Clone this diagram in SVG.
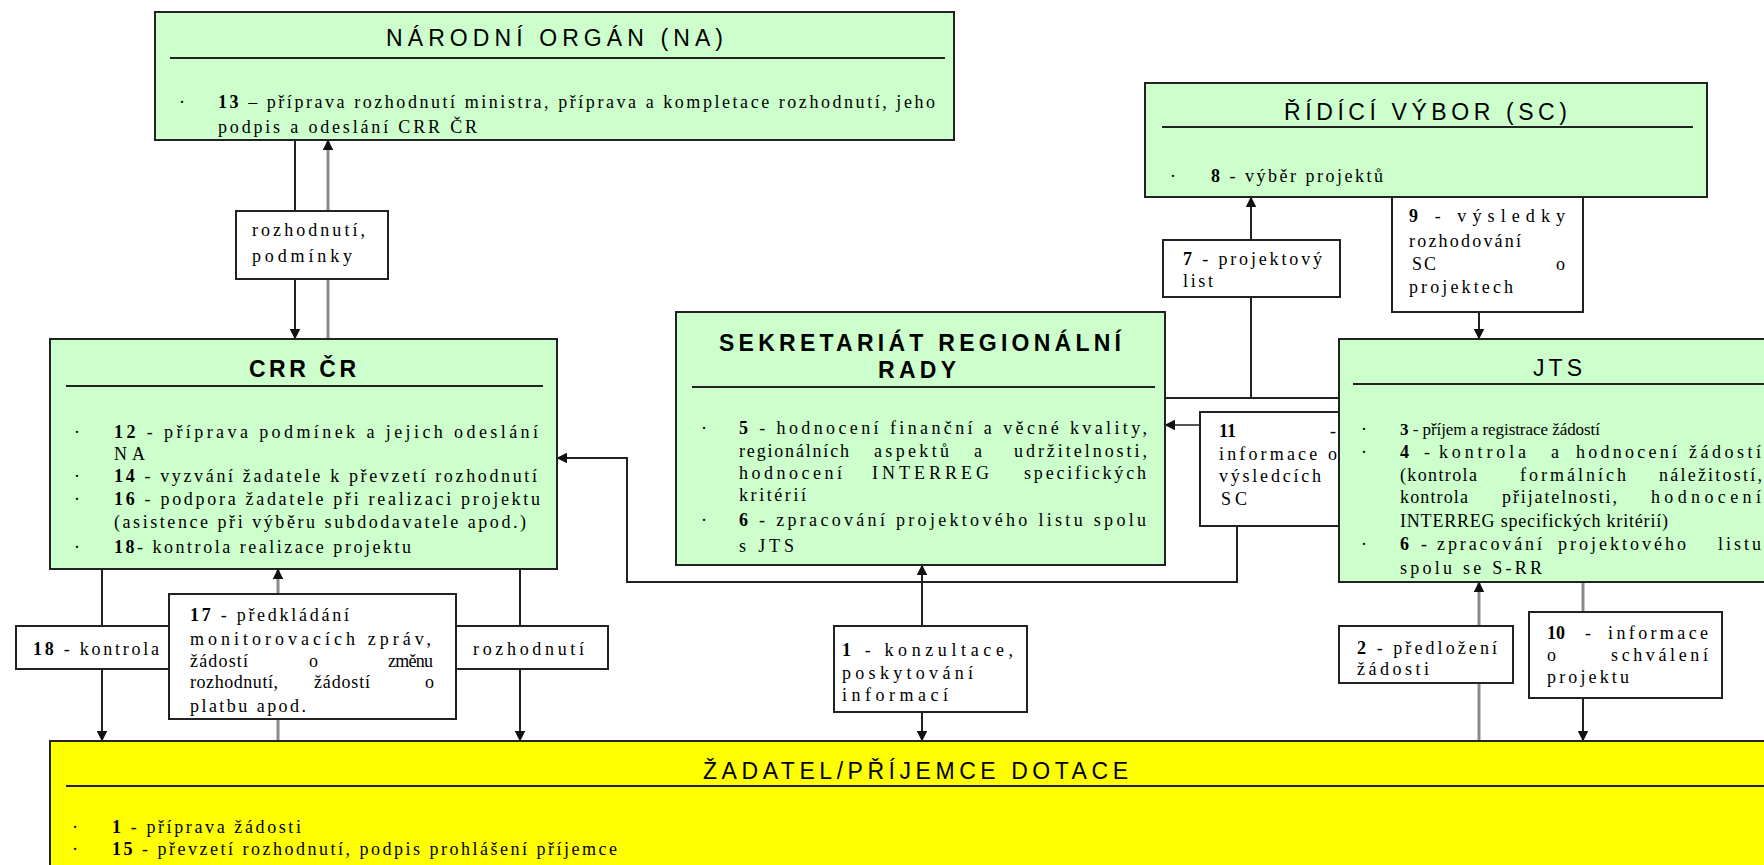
<svg xmlns="http://www.w3.org/2000/svg" width="1764" height="865" viewBox="0 0 1764 865">
<style>
.box{fill:#ccffcc;stroke:#222;stroke-width:2}
.ybox{fill:#ffff00;stroke:#222;stroke-width:2}
.lbl{fill:#fff;stroke:#222;stroke-width:2}
.rule{stroke:#222;stroke-width:2}
.h{font-family:"Liberation Sans",Arial,sans-serif;font-size:23px;fill:#000}
.hb{font-family:"Liberation Sans",Arial,sans-serif;font-size:23px;font-weight:bold;fill:#000}
.t{font-family:"Liberation Serif","Times New Roman",serif;font-size:18px;fill:#000}
.b{font-weight:bold}
.ln{stroke:#222;stroke-width:2;fill:none}
.lg{stroke:#8a8a8a;stroke-width:3;fill:none}
.lm{stroke:#555;stroke-width:2;fill:none}
</style>
<defs>
<marker id="ar" viewBox="0 0 10 10" refX="9.5" refY="5" markerWidth="11" markerHeight="11" markerUnits="userSpaceOnUse" orient="auto-start-reverse">
<path d="M0,0 L10,5 L0,10 z" fill="#111"/>
</marker>
</defs>

<g id="connectors">
<path class="ln" d="M295,140 V339" marker-end="url(#ar)"/>
<path class="lg" d="M328,339 V140" marker-end="url(#ar)"/>
<path class="ln" d="M102,569 V741" marker-end="url(#ar)"/>
<path class="lg" d="M278,741 V569" marker-end="url(#ar)"/>
<path class="ln" d="M520,569 V741" marker-end="url(#ar)"/>
<path class="ln" d="M922,741 V565" marker-start="url(#ar)" marker-end="url(#ar)"/>
<path class="lg" d="M1479,741 V582" marker-end="url(#ar)"/>
<path class="lg" d="M1583,582 V612"/>
<path class="ln" d="M1583,698 V741" marker-end="url(#ar)"/>
<path class="ln" d="M1479,197 V339" marker-end="url(#ar)"/>
<path class="ln" d="M1165,398 H1339"/>
<path class="ln" d="M1251,398 V197" marker-end="url(#ar)"/>
<path class="lm" d="M1200,425 H1165" marker-end="url(#ar)"/>
<path class="ln" d="M1237,526 V582 H627 V458 H557" marker-end="url(#ar)"/>
</g>

<g id="label-rozhodnuti-podminky">
<rect class="lbl" x="236" y="211" width="152" height="68"/>
<text class="t" x="252" y="236" textLength="113" lengthAdjust="spacing">rozhodnutí,</text>
<text class="t" x="252" y="262" textLength="100" lengthAdjust="spacing">podmínky</text>
</g>
<g id="label-7">
<rect class="lbl" x="1163" y="240" width="177" height="57"/>
<text class="t" x="1183" y="265" textLength="139" lengthAdjust="spacing"><tspan class="b">7</tspan> - projektový</text>
<text class="t" x="1183" y="287" textLength="30" lengthAdjust="spacing">list</text>
</g>
<g id="label-9">
<rect class="lbl" x="1392" y="197" width="191" height="115"/>
<text class="t" x="1409" y="222" textLength="156" lengthAdjust="spacing"><tspan class="b">9</tspan> - výsledky</text>
<text class="t" x="1409" y="247" textLength="112" lengthAdjust="spacing">rozhodování</text>
<text class="t" x="1412" y="270" textLength="24" lengthAdjust="spacing">SC</text>
<text class="t" x="1556" y="270">o</text>
<text class="t" x="1409" y="293" textLength="104" lengthAdjust="spacing">projektech</text>
</g>
<g id="label-11">
<rect class="lbl" x="1200" y="412" width="150" height="114"/>
<text class="t b" x="1219" y="437">11</text>
<text class="t" x="1330" y="437">-</text>
<text class="t" x="1219" y="460" textLength="118" lengthAdjust="spacing">informace o</text>
<text class="t" x="1219" y="482" textLength="102" lengthAdjust="spacing">výsledcích</text>
<text class="t" x="1221" y="505" textLength="26" lengthAdjust="spacing">SC</text>
</g>
<g id="label-18">
<rect class="lbl" x="16" y="626" width="153" height="43"/>
<text class="t" x="33" y="655" textLength="126" lengthAdjust="spacing"><tspan class="b">18</tspan> - kontrola</text>
</g>
<g id="label-17">
<rect class="lbl" x="169" y="594" width="287" height="125"/>
<text class="t" x="190" y="621" textLength="159" lengthAdjust="spacing"><tspan class="b">17</tspan> - předkládání</text>
<text class="t" x="190" y="645" textLength="241" lengthAdjust="spacing">monitorovacích zpráv,</text>
<text class="t" x="190" y="667" textLength="58" lengthAdjust="spacing">žádostí</text>
<text class="t" x="309" y="667">o</text>
<text class="t" x="388" y="667" textLength="45" lengthAdjust="spacing">změnu</text>
<text class="t" x="190" y="688" textLength="88" lengthAdjust="spacing">rozhodnutí,</text>
<text class="t" x="314" y="688" textLength="56" lengthAdjust="spacing">žádostí</text>
<text class="t" x="425" y="688">o</text>
<text class="t" x="190" y="712" textLength="116" lengthAdjust="spacing">platbu apod.</text>
</g>
<g id="label-rozhodnuti">
<rect class="lbl" x="456" y="626" width="152" height="43"/>
<text class="t" x="473" y="655" textLength="111" lengthAdjust="spacing">rozhodnutí</text>
</g>
<g id="label-1">
<rect class="lbl" x="834" y="626" width="193" height="86"/>
<text class="t" x="842" y="656" textLength="171" lengthAdjust="spacing"><tspan class="b">1</tspan> - konzultace,</text>
<text class="t" x="842" y="679" textLength="131" lengthAdjust="spacing">poskytování</text>
<text class="t" x="842" y="701" textLength="106" lengthAdjust="spacing">informací</text>
</g>
<g id="label-2">
<rect class="lbl" x="1339" y="626" width="174" height="57"/>
<text class="t" x="1357" y="654" textLength="140" lengthAdjust="spacing"><tspan class="b">2</tspan> - předložení</text>
<text class="t" x="1357" y="675" textLength="72" lengthAdjust="spacing">žádosti</text>
</g>
<g id="label-10">
<rect class="lbl" x="1529" y="612" width="193" height="86"/>
<text class="t b" x="1547" y="639">10</text>
<text class="t" x="1585" y="639">-</text>
<text class="t" x="1608" y="639" textLength="100" lengthAdjust="spacing">informace</text>
<text class="t" x="1547" y="661">o</text>
<text class="t" x="1611" y="661" textLength="97" lengthAdjust="spacing">schválení</text>
<text class="t" x="1547" y="683" textLength="82" lengthAdjust="spacing">projektu</text>
</g>

<g id="node-na">
<rect class="box" x="155" y="12" width="799" height="128"/>
<text class="h" x="386" y="46" textLength="337" lengthAdjust="spacing">NÁRODNÍ ORGÁN (NA)</text>
<line class="rule" x1="170" y1="58" x2="945" y2="58"/>
<text class="t" x="179" y="108">·</text>
<text class="t" x="218" y="108" textLength="717" lengthAdjust="spacing"><tspan class="b">13</tspan> – příprava rozhodnutí ministra, příprava a kompletace rozhodnutí, jeho</text>
<text class="t" x="218" y="133" textLength="259" lengthAdjust="spacing">podpis a odeslání CRR ČR</text>
</g>

<g id="node-sc">
<rect class="box" x="1145" y="83" width="562" height="114"/>
<text class="h" x="1284" y="120" textLength="283" lengthAdjust="spacing">ŘÍDÍCÍ VÝBOR (SC)</text>
<line class="rule" x1="1162" y1="127" x2="1693" y2="127"/>
<text class="t" x="1170" y="182">·</text>
<text class="t" x="1211" y="182" textLength="172" lengthAdjust="spacing"><tspan class="b">8</tspan> - výběr projektů</text>
</g>

<g id="node-crr">
<rect class="box" x="50" y="339" width="507" height="230"/>
<text class="hb" x="249" y="377" textLength="107" lengthAdjust="spacing">CRR ČR</text>
<line class="rule" x1="66" y1="386" x2="543" y2="386"/>
<text class="t" x="74" y="438">·</text>
<text class="t" x="114" y="438" textLength="424" lengthAdjust="spacing"><tspan class="b">12</tspan> - příprava podmínek  a jejich odeslání</text>
<text class="t" x="114" y="460" textLength="31" lengthAdjust="spacing">NA</text>
<text class="t" x="74" y="482">·</text>
<text class="t" x="114" y="482" textLength="423" lengthAdjust="spacing"><tspan class="b">14</tspan> - vyzvání žadatele k převzetí rozhodnutí</text>
<text class="t" x="74" y="505">·</text>
<text class="t" x="114" y="505" textLength="426" lengthAdjust="spacing"><tspan class="b">16</tspan> - podpora žadatele při realizaci projektu</text>
<text class="t" x="114" y="528" textLength="412" lengthAdjust="spacing">(asistence při výběru subdodavatele apod.)</text>
<text class="t" x="74" y="553">·</text>
<text class="t" x="114" y="553" textLength="297" lengthAdjust="spacing"><tspan class="b">18</tspan>- kontrola realizace projektu</text>
</g>

<g id="node-srr">
<rect class="box" x="676" y="312" width="489" height="253"/>
<text class="hb" x="719" y="351" textLength="402" lengthAdjust="spacing">SEKRETARIÁT REGIONÁLNÍ</text>
<text class="hb" x="878" y="378" textLength="78" lengthAdjust="spacing">RADY</text>
<line class="rule" x1="692" y1="387" x2="1155" y2="387"/>
<text class="t" x="701" y="434">·</text>
<text class="t" x="739" y="434" textLength="408" lengthAdjust="spacing"><tspan class="b">5</tspan> - hodnocení finanční a věcné kvality,</text>
<text class="t" x="739" y="457" textLength="110" lengthAdjust="spacing">regionálních</text>
<text class="t" x="874" y="457" textLength="75" lengthAdjust="spacing">aspektů</text>
<text class="t" x="974" y="457">a</text>
<text class="t" x="1014" y="457" textLength="133" lengthAdjust="spacing">udržitelnosti,</text>
<text class="t" x="739" y="479" textLength="103" lengthAdjust="spacing">hodnocení</text>
<text class="t" x="872" y="479" textLength="117" lengthAdjust="spacing">INTERREG</text>
<text class="t" x="1024" y="479" textLength="122" lengthAdjust="spacing">specifických</text>
<text class="t" x="739" y="501" textLength="67" lengthAdjust="spacing">kritérií</text>
<text class="t" x="701" y="526">·</text>
<text class="t" x="739" y="526" textLength="407" lengthAdjust="spacing"><tspan class="b">6</tspan> - zpracování projektového listu spolu</text>
<text class="t" x="739" y="552" textLength="55" lengthAdjust="spacing">s JTS</text>
</g>

<g id="node-jts">
<rect class="box" x="1339" y="339" width="440" height="243"/>
<text class="h" x="1533" y="376" textLength="49" lengthAdjust="spacing">JTS</text>
<line class="rule" x1="1353" y1="384" x2="1764" y2="384"/>
<text class="t" x="1361" y="435">·</text>
<text class="t" x="1400" y="435" style="font-size:17px" textLength="200" lengthAdjust="spacing"><tspan class="b">3</tspan> - příjem a registrace žádostí</text>
<text class="t" x="1361" y="458">·</text>
<text class="t b" x="1400" y="458">4</text>
<text class="t" x="1424" y="458">-</text>
<text class="t" x="1439" y="458" textLength="87" lengthAdjust="spacing">kontrola</text>
<text class="t" x="1551" y="458">a</text>
<text class="t" x="1576" y="458" textLength="101" lengthAdjust="spacing">hodnocení</text>
<text class="t" x="1689" y="458" textLength="72" lengthAdjust="spacing">žádostí</text>
<text class="t" x="1400" y="481" textLength="77" lengthAdjust="spacing">(kontrola</text>
<text class="t" x="1520" y="481" textLength="106" lengthAdjust="spacing">formálních</text>
<text class="t" x="1659" y="481" textLength="103" lengthAdjust="spacing">náležitostí,</text>
<text class="t" x="1400" y="503" textLength="68" lengthAdjust="spacing">kontrola</text>
<text class="t" x="1502" y="503" textLength="115" lengthAdjust="spacing">přijatelnosti,</text>
<text class="t" x="1651" y="503" textLength="110" lengthAdjust="spacing">hodnocení</text>
<text class="t" x="1400" y="527" textLength="268" lengthAdjust="spacing">INTERREG specifických kritérií)</text>
<text class="t" x="1361" y="550">·</text>
<text class="t b" x="1400" y="550">6</text>
<text class="t" x="1421" y="550">-</text>
<text class="t" x="1437" y="550" textLength="105" lengthAdjust="spacing">zpracování</text>
<text class="t" x="1558" y="550" textLength="128" lengthAdjust="spacing">projektového</text>
<text class="t" x="1718" y="550" textLength="43" lengthAdjust="spacing">listu</text>
<text class="t" x="1400" y="574" textLength="142" lengthAdjust="spacing">spolu se S-RR</text>
</g>

<g id="node-zadatel">
<rect class="ybox" x="50" y="741" width="1730" height="140"/>
<text class="h" x="703" y="779" textLength="425" lengthAdjust="spacing">ŽADATEL/PŘÍJEMCE DOTACE</text>
<line class="rule" x1="66" y1="786" x2="1764" y2="786"/>
<text class="t" x="72" y="833">·</text>
<text class="t" x="112" y="833" textLength="189" lengthAdjust="spacing"><tspan class="b">1</tspan> - příprava žádosti</text>
<text class="t" x="72" y="855">·</text>
<text class="t" x="112" y="855" textLength="505" lengthAdjust="spacing"><tspan class="b">15</tspan> - převzetí rozhodnutí, podpis prohlášení příjemce</text>
</g>
</svg>
